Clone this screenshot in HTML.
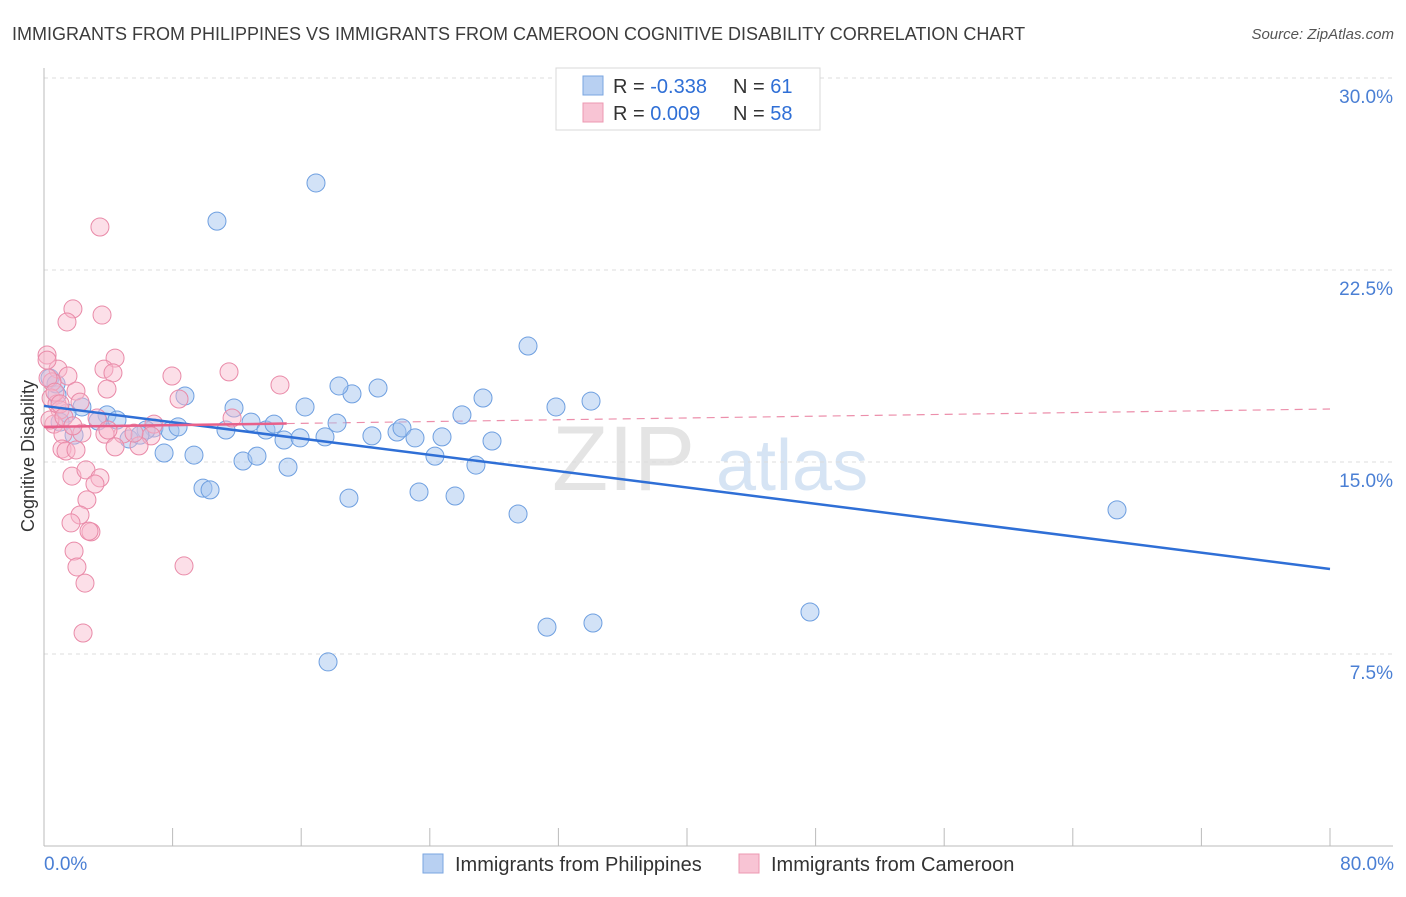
<!DOCTYPE html>
<html><head><meta charset="utf-8"><style>
body{margin:0;background:#fff;font-family:"Liberation Sans",sans-serif;}
svg text{font-family:"Liberation Sans",sans-serif;}
</style></head><body>
<svg id="chart" width="1406" height="892" viewBox="0 0 1406 892" xmlns="http://www.w3.org/2000/svg">
<text x="12" y="40" font-size="18" fill="#3c3c3c">IMMIGRANTS FROM PHILIPPINES VS IMMIGRANTS FROM CAMEROON COGNITIVE DISABILITY CORRELATION CHART</text>
<text x="1394" y="39" font-size="15" fill="#555" font-style="italic" text-anchor="end">Source: ZipAtlas.com</text>
<g>
<text x="552" y="490" font-size="92" fill="#e4e4e4" font-family="Liberation Serif,serif">ZIP</text>
<text x="716" y="490" font-size="72" fill="#d6e4f4">atlas</text>
</g>
<g id="grid"></g>
<g id="axes"></g>
<g id="trend"></g>
<g id="points"></g>
<g>
<rect x="556" y="68" width="264" height="62" fill="#fff" stroke="#d8d8d8"/>
<rect x="583" y="76" width="20" height="19" fill="#b8d0f2" stroke="#7aa6e0"/>
<rect x="583" y="103" width="20" height="19" fill="#f8c4d4" stroke="#ec98b2"/>
<text x="613" y="93" font-size="20" fill="#333">R = <tspan fill="#2f6fd6">-0.338</tspan></text>
<text x="733" y="93" font-size="20" fill="#333">N = <tspan fill="#2f6fd6"> 61</tspan></text>
<text x="613" y="120" font-size="20" fill="#333">R = <tspan fill="#2f6fd6"> 0.009</tspan></text>
<text x="733" y="120" font-size="20" fill="#333">N = <tspan fill="#2f6fd6">58</tspan></text>
</g>
<g>
<rect x="423" y="854" width="20" height="19" fill="#b8d0f2" stroke="#7aa6e0"/>
<text x="455" y="871" font-size="20" fill="#333">Immigrants from Philippines</text>
<rect x="739" y="854" width="20" height="19" fill="#f8c4d4" stroke="#ec98b2"/>
<text x="771" y="871" font-size="20" fill="#333">Immigrants from Cameroon</text>
</g>
<text transform="translate(34,456) rotate(-90)" font-size="18" fill="#333" text-anchor="middle">Cognitive Disability</text>
<text x="44" y="870" font-size="19" fill="#4a7fd4">0.0%</text>
<text x="1394" y="870" font-size="19" fill="#4a7fd4" text-anchor="end">80.0%</text>
</svg>
<script>
const yTicks=[7.5,15,22.5,30];
const yTickLabels=["7.5%","15.0%","22.5%","30.0%"];
const xTicks=[0,8,16,24,32,40,48,56,64,72,80];
const phX=[16.92,10.76,30.11,34.03,27.31,31.85,26.00,20.78,19.16,18.35,16.24,11.82,8.77,2.36,3.92,1.43,1.00,3.36,4.54,6.84,6.35,7.84,8.34,11.32,12.88,13.81,14.31,14.93,15.93,17.48,18.23,20.40,21.96,22.27,23.08,24.76,27.87,5.29,5.97,1.87,7.47,9.33,12.38,13.25,15.18,24.32,26.87,9.89,10.33,18.97,23.33,25.57,29.49,66.75,47.65,31.29,34.15,17.67,0.81,0.37,0.75];
const phY=[25.90,24.41,19.53,17.38,17.50,17.15,16.84,17.89,17.66,17.97,17.15,17.11,17.58,17.15,16.84,16.91,16.56,16.60,16.64,16.33,16.25,16.21,16.37,16.25,16.56,16.25,16.48,15.86,15.94,15.98,16.52,16.02,16.17,16.33,15.94,15.98,15.82,15.90,16.05,16.05,15.35,15.27,15.04,15.23,14.80,15.23,14.88,13.98,13.91,13.59,13.83,13.67,12.97,13.13,9.14,8.55,8.71,7.19,17.62,18.28,18.05];
const cmX=[3.48,1.80,3.61,1.43,0.19,4.42,3.73,4.29,0.87,1.49,7.96,11.51,14.68,0.50,3.92,1.99,8.40,0.44,0.81,2.24,1.00,0.62,3.30,6.84,11.70,1.18,3.79,2.36,4.91,6.66,1.12,1.37,1.99,5.91,4.42,1.74,2.61,3.48,3.17,2.67,2.24,1.68,2.92,2.80,1.87,2.05,8.71,2.55,2.43,0.19,0.25,0.68,1.00,0.37,1.24,1.80,3.98,5.60];
const cmY=[24.18,20.98,20.74,20.47,19.18,19.06,18.63,18.48,18.63,18.36,18.36,18.52,18.01,18.13,17.85,17.77,17.46,17.50,17.27,17.34,17.03,16.48,16.72,16.48,16.72,16.09,16.09,16.13,16.09,16.02,15.51,15.43,15.47,15.63,15.59,14.45,14.69,14.38,14.14,13.52,12.93,12.62,12.27,12.30,11.52,10.90,10.94,10.27,8.32,18.98,18.28,17.73,17.27,16.64,16.76,16.41,16.25,16.13];
const phTrend=[17.19,10.82];
const cmTrend=[16.37,17.07];
const cmTrendSolidEnd=15.1;

const NS="http://www.w3.org/2000/svg";
const X=v=>44+v*(1286/80);
const Y=v=>846-v*25.6;
function mk(tag,attrs,parent){const e=document.createElementNS(NS,tag);for(const k in attrs)e.setAttribute(k,attrs[k]);parent.appendChild(e);return e;}
const grid=document.getElementById('grid'),axes=document.getElementById('axes'),trend=document.getElementById('trend'),pts=document.getElementById('points');
yTicks.forEach((t,i)=>{
  const l=mk('line',{x1:44,x2:1393,y1:Y(t),y2:Y(t),stroke:'#dcdcdc','stroke-dasharray':'4,4'},grid);
  
  
  const tx=mk('text',{x:1393,y:Y(t)+25,'font-size':19,fill:'#4a7fd4','text-anchor':'end'},axes);
  tx.textContent=yTickLabels[i];
  
  
});
const ax=mk('line',{x1:44,x2:1393,y1:846,y2:846,stroke:'#bbb'},axes);


const ay=mk('line',{x1:44,x2:44,y1:68,y2:846,stroke:'#bbb'},axes);


xTicks.forEach(t=>{
  const l=mk('line',{x1:X(t),x2:X(t),y1:828,y2:846,stroke:'#bbb'},axes);
  
  
});
const pd=mk('line',{x1:X(cmTrendSolidEnd),x2:X(80),y1:Y(cmTrend[0]+(cmTrend[1]-cmTrend[0])*cmTrendSolidEnd/80),y2:Y(cmTrend[1]),stroke:'#ec8fab','stroke-width':1.2,'stroke-dasharray':'8,6'},trend);


phX.forEach((x,i)=>{
  const c=mk('circle',{cx:X(x),cy:Y(phY[i]),r:9,fill:'rgba(165,198,240,0.5)',stroke:'#6e9fe0','stroke-width':1},pts);
  
  
});
cmX.forEach((x,i)=>{
  const c=mk('circle',{cx:X(x),cy:Y(cmY[i]),r:9,fill:'rgba(248,185,205,0.45)',stroke:'#e98aa8','stroke-width':1},pts);
  
  
});
const pb=mk('line',{x1:X(0),x2:X(80),y1:Y(phTrend[0]),y2:Y(phTrend[1]),stroke:'#2f6fd6','stroke-width':2.5},pts);


const ps=mk('line',{x1:X(0),x2:X(cmTrendSolidEnd),y1:Y(cmTrend[0]),y2:Y(cmTrend[0]+(cmTrend[1]-cmTrend[0])*cmTrendSolidEnd/80),stroke:'#e8608a','stroke-width':2.5},pts);


</script>
</body></html>
